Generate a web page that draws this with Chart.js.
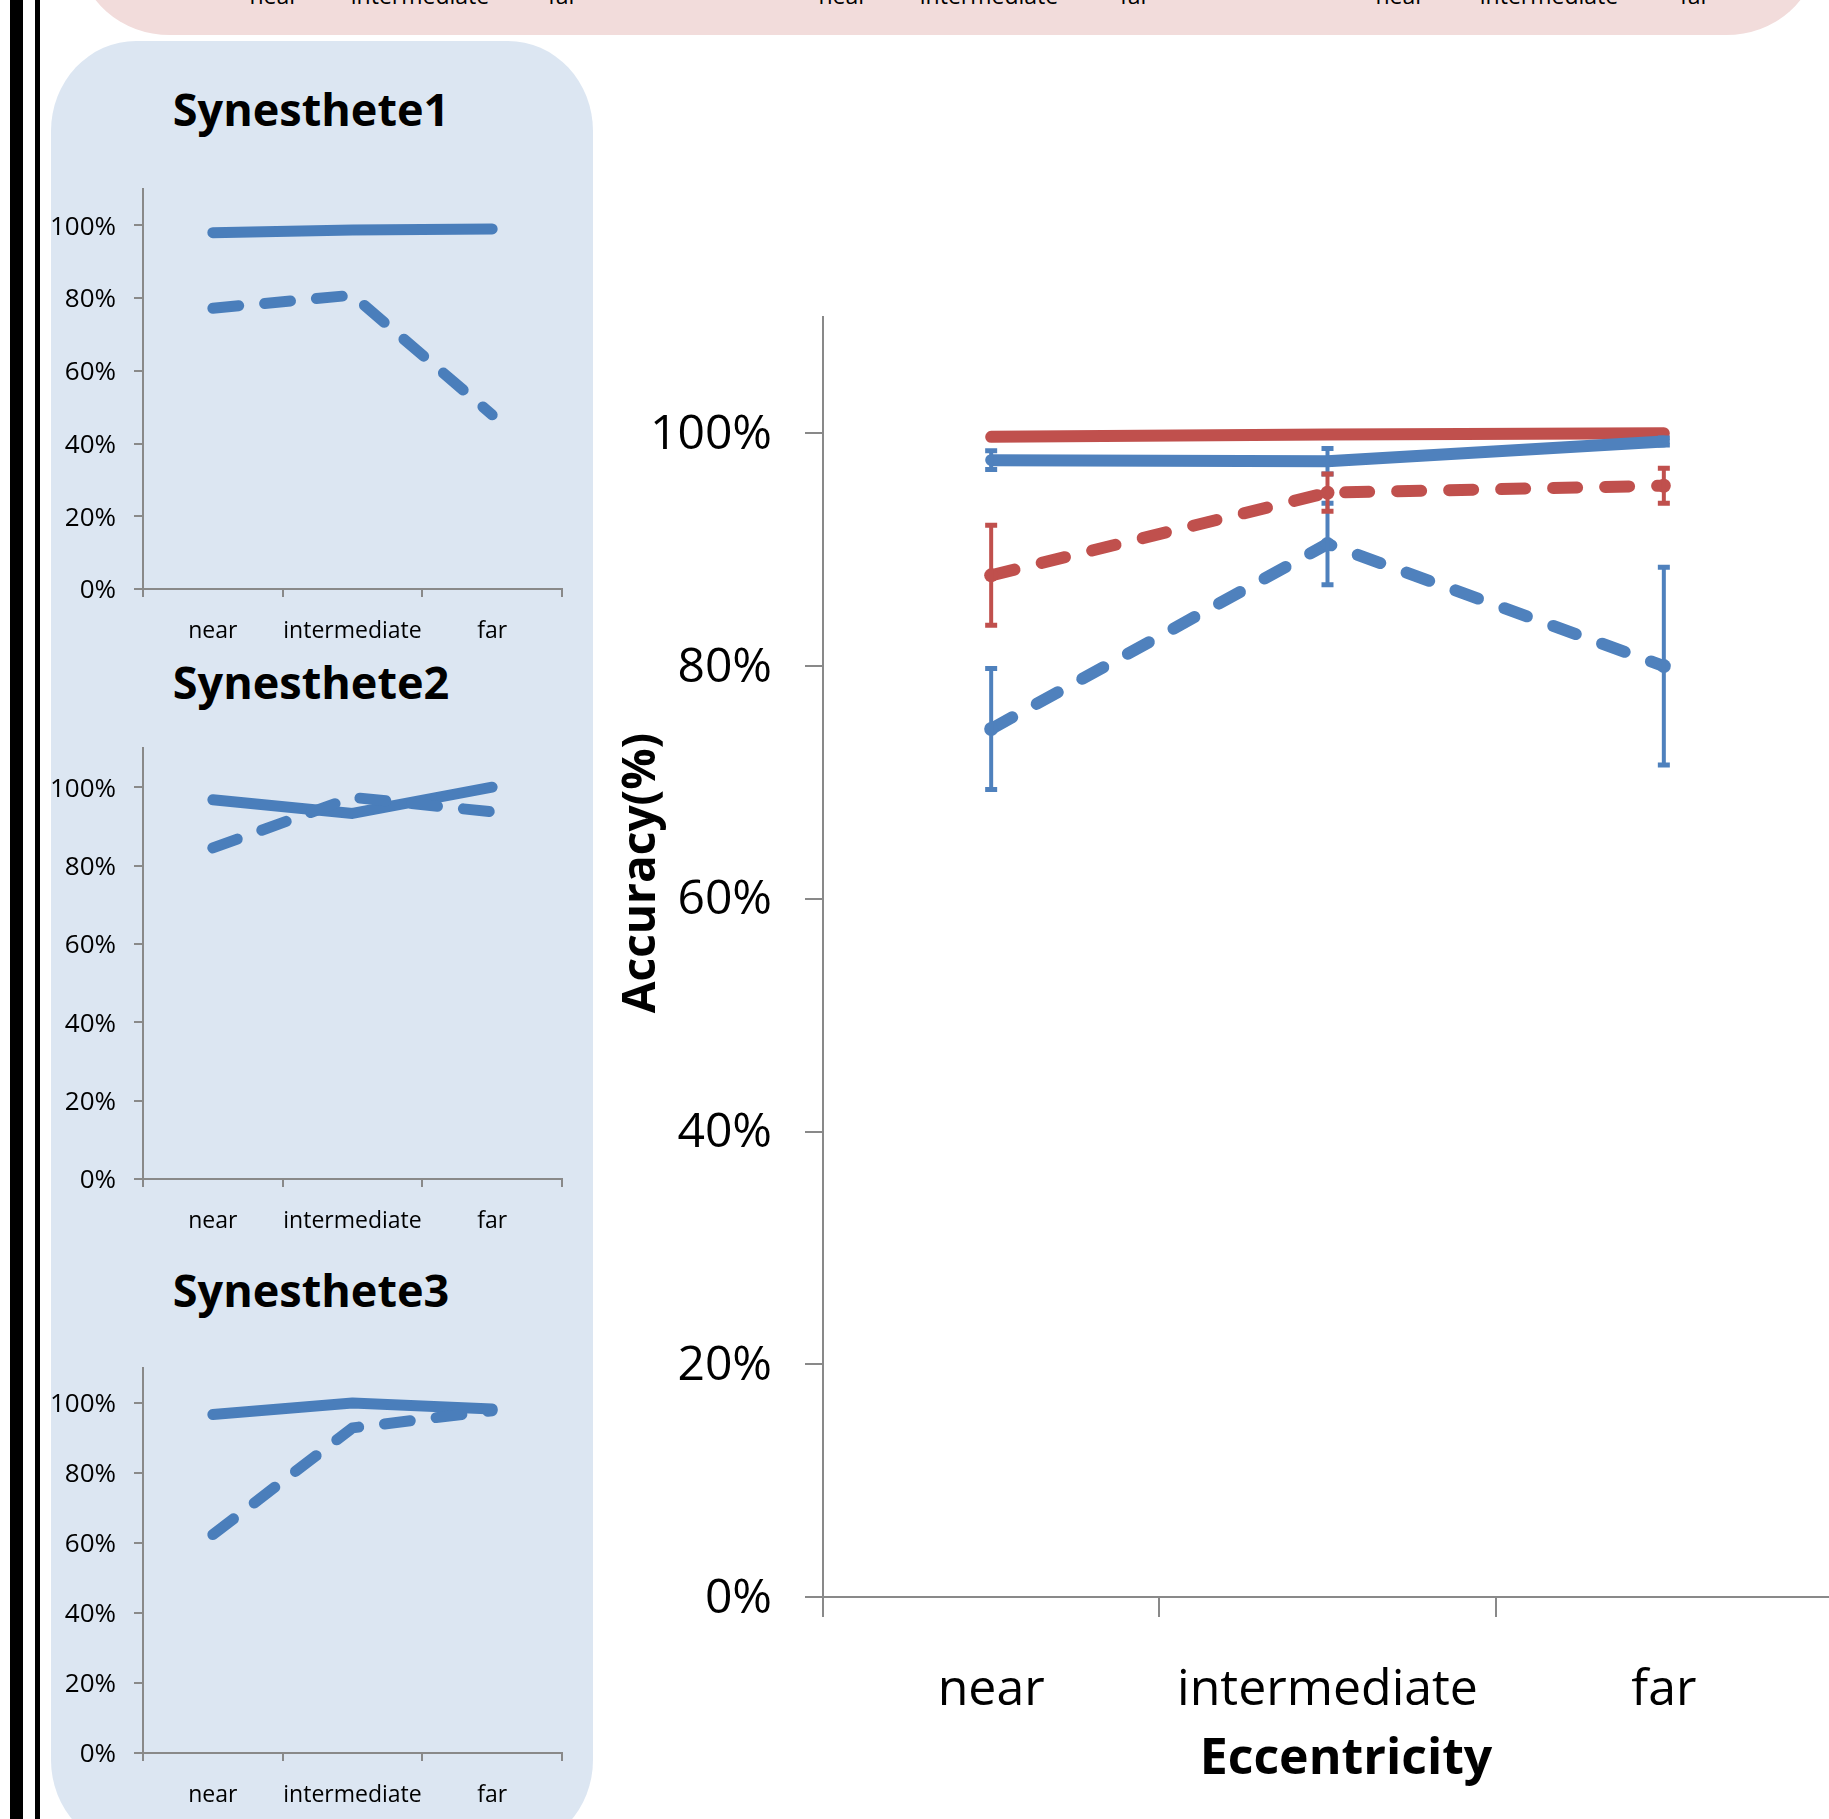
<!DOCTYPE html>
<html><head><meta charset="utf-8">
<script src="https://cdn.jsdelivr.net/npm/chart.js@4.4.1/dist/chart.umd.min.js"></script>
<style>
html,body{margin:0;padding:0;width:1829px;height:1819px;overflow:hidden;background:#fff;font-family:'Open Sans',sans-serif;}
.abs{position:absolute;}
canvas{position:absolute;}
.title{position:absolute;width:400px;text-align:center;font-weight:700;font-size:45px;line-height:45px;color:#000;white-space:nowrap;}
.rem{position:absolute;font-size:23px;line-height:23px;color:#000;white-space:nowrap;transform:translateX(-50%);}
</style></head><body>
<div class="abs" style="left:10px;top:0;width:13px;height:1819px;background:#000"></div>
<div class="abs" style="left:35px;top:0;width:5px;height:1819px;background:#000"></div>
<div class="abs" style="left:80px;top:-200px;width:1736px;height:235px;background:#f2dcdb;border-radius:0 0 90px 90px / 0 0 80px 80px"></div>
<div id="rems"></div>
<div class="abs" style="left:51px;top:41px;width:542px;height:1809px;background:#dce6f2;border-radius:85px / 90px"></div>
<div class="title" style="left:111px;top:86px">Synesthete1</div>
<div class="title" style="left:111px;top:659px">Synesthete2</div>
<div class="title" style="left:111px;top:1267px">Synesthete3</div>
<canvas id="s1"></canvas>
<canvas id="s2"></canvas>
<canvas id="s3"></canvas>
<canvas id="main"></canvas>
<div class="abs" style="left:614px;top:850px;width:46px;height:46px;"><div style="position:absolute;left:23px;top:23px;transform:translate(-50%,-50%) rotate(-90deg);font-weight:700;font-size:46px;line-height:46px;white-space:nowrap;color:#000">Accuracy(%)</div></div>
<div class="abs" style="left:1146px;top:1730px;width:400px;text-align:center;font-weight:700;font-size:50px;line-height:50px;white-space:nowrap;color:#000">Eccentricity</div>
<script>
// ---------- data ----------
const categories = ['near', 'intermediate', 'far'];
const yTickValues = [0, 0.2, 0.4, 0.6, 0.8, 1.0];

// main chart (group means with error bars)
const redSolid      = [0.997, 0.999, 1.000];
const redSolidErr   = [0, 0, 0];
const blueSolid     = [0.977, 0.976, 0.993];
const blueSolidErr  = [0.008, 0.011, 0.003];
const redDashed     = [0.878, 0.949, 0.955];
const redDashedErr  = [0.043, 0.016, 0.015];
const blueDashed    = [0.746, 0.905, 0.800];
const blueDashedErr = [0.052, 0.035, 0.085];

// individual synesthetes
const syn1Solid  = [0.980, 0.987, 0.990];
const syn1Dashed = [0.772, 0.808, 0.479];
const syn2Solid  = [0.968, 0.933, 1.000];
const syn2Dashed = [0.845, 0.974, 0.937];
const syn3Solid  = [0.967, 1.000, 0.983];
const syn3Dashed = [0.624, 0.929, 0.978];

// remnant tick labels of the charts cut off above
const remnantCenters = [[274, 420, 563], [843, 989, 1135], [1400, 1549, 1695]];

// ---------- styling ----------
const RED = '#c0504d', BLUE = '#4f81bd', BLUE_S = '#4a7ebb', AXIS = '#898989';
Chart.defaults.font.family = "'Open Sans', sans-serif";
Chart.defaults.color = '#000';

const rems = document.getElementById('rems');
remnantCenters.forEach(g => g.forEach((cx, i) => {
  const d = document.createElement('div');
  d.className = 'rem'; d.style.left = cx + 'px'; d.style.top = '-16px';
  d.textContent = categories[i]; rems.appendChild(d);
}));

const pct = v => Math.round(v * 100) + '%';
const keepTicks = s => { s.ticks = s.ticks.filter(t => yTickValues.some(v => Math.abs(v - t.value) < 1e-6)); };

function placeChart(id, area, yW, xH, config) {
  const padTop = 100, padRight = 20;
  const cv = document.getElementById(id);
  const w = Math.round(area.r - area.l + yW + padRight);
  const h = Math.round(area.b - area.t + padTop + xH);
  cv.style.left = (area.l - yW) + 'px';
  cv.style.top = (area.t - padTop) + 'px';
  cv.width = w; cv.height = h;
  cv.style.width = w + 'px'; cv.style.height = h + 'px';
  config.options.layout = { padding: { top: padTop, right: padRight, left: 0, bottom: 0 } };
  config.options.scales.y.afterFit = s => { s.width = yW; };
  config.options.scales.x.afterFit = s => { s.height = xH; };
  return new Chart(cv, config);
}

const errorBars = {
  id: 'errorBars',
  afterDatasetsDraw(chart) {
    const ctx = chart.ctx, xs = chart.scales.x, ys = chart.scales.y;
    chart.data.datasets.forEach(ds => {
      if (!ds.errors) return;
      ds.data.forEach((v, i) => {
        const e = ds.errors[i];
        if (!e) return;
        const px = xs.getPixelForValue(i);
        const t = ys.getPixelForValue(v + e), b = ys.getPixelForValue(v - e);
        ctx.save();
        ctx.strokeStyle = ds.borderColor; ctx.setLineDash([]); ctx.lineCap = 'butt';
        ctx.lineWidth = 4;
        ctx.beginPath(); ctx.moveTo(px, t); ctx.lineTo(px, b); ctx.stroke();
        ctx.lineWidth = 5;
        ctx.beginPath();
        ctx.moveTo(px - 6, t); ctx.lineTo(px + 6, t);
        ctx.moveTo(px - 6, b); ctx.lineTo(px + 6, b);
        ctx.stroke();
        ctx.restore();
      });
    });
  }
};

function smallConfig(solid, dashed) {
  return {
    type: 'line',
    data: {
      labels: categories,
      datasets: [
        { label: 'dashed', data: dashed, borderColor: BLUE_S, borderWidth: 11, borderDash: [26, 26], borderCapStyle: 'round', borderJoinStyle: 'round', pointRadius: 0, tension: 0, fill: false },
        { label: 'solid', data: solid, borderColor: BLUE_S, borderWidth: 11, borderCapStyle: 'round', borderJoinStyle: 'round', pointRadius: 0, tension: 0, fill: false }
      ]
    },
    options: {
      responsive: false, maintainAspectRatio: false, animation: false, events: [],
      plugins: { legend: { display: false }, tooltip: { enabled: false } },
      scales: {
        x: {
          offset: true,
          grid: { offset: true, drawOnChartArea: false, drawTicks: true, tickLength: 8, color: AXIS, lineWidth: 2 },
          border: { display: true, color: AXIS, width: 2 },
          ticks: { font: { size: 23 }, padding: 21, color: '#000', maxRotation: 0, autoSkip: false }
        },
        y: {
          min: 0, max: 1.1,
          afterBuildTicks: keepTicks,
          grid: { drawOnChartArea: false, drawTicks: true, tickLength: 9, color: AXIS, lineWidth: 2 },
          border: { display: true, color: AXIS, width: 2 },
          ticks: { stepSize: 0.2, font: { size: 26 }, padding: 18, labelOffset: 2, color: '#000', callback: pct }
        }
      }
    }
  };
}

placeChart('s1', { l: 143, t: 189, r: 562, b: 589 }, 120, 60, smallConfig(syn1Solid, syn1Dashed));
placeChart('s2', { l: 143, t: 748, r: 562, b: 1179 }, 120, 60, smallConfig(syn2Solid, syn2Dashed));
placeChart('s3', { l: 143, t: 1368, r: 562, b: 1753 }, 120, 60, smallConfig(syn3Solid, syn3Dashed));

placeChart('main', { l: 823, t: 317, r: 1832, b: 1597 }, 240, 130, {
  type: 'line',
  data: {
    labels: categories,
    datasets: [
      { label: 'blue solid', data: blueSolid, errors: blueSolidErr, borderColor: BLUE, backgroundColor: BLUE, borderWidth: 12, borderCapStyle: 'round', pointRadius: 0, tension: 0, fill: false },
      { label: 'red solid', data: redSolid, errors: redSolidErr, borderColor: RED, backgroundColor: RED, borderWidth: 12, borderCapStyle: 'round', pointRadius: 0, tension: 0, fill: false },
      { label: 'blue dashed', data: blueDashed, errors: blueDashedErr, borderColor: BLUE, backgroundColor: BLUE, borderWidth: 12, borderDash: [24, 28], borderCapStyle: 'round', pointRadius: 7, pointBorderWidth: 0, pointBackgroundColor: BLUE, tension: 0, fill: false },
      { label: 'red dashed', data: redDashed, errors: redDashedErr, borderColor: RED, backgroundColor: RED, borderWidth: 12, borderDash: [24, 28], borderCapStyle: 'round', pointRadius: 7, pointBorderWidth: 0, pointBackgroundColor: RED, tension: 0, fill: false }
    ]
  },
  options: {
    responsive: false, maintainAspectRatio: false, animation: false, events: [],
    plugins: { legend: { display: false }, tooltip: { enabled: false } },
    scales: {
      x: {
        offset: true,
        grid: { offset: true, drawOnChartArea: false, drawTicks: true, tickLength: 20, color: AXIS, lineWidth: 2 },
        border: { display: true, color: AXIS, width: 2 },
        ticks: { font: { size: 50 }, padding: 44, color: '#000', maxRotation: 0, autoSkip: false }
      },
      y: {
        min: 0, max: 1.1,
        afterBuildTicks: keepTicks,
        grid: { drawOnChartArea: false, drawTicks: true, tickLength: 18, color: AXIS, lineWidth: 2 },
        border: { display: true, color: AXIS, width: 2 },
        ticks: { stepSize: 0.2, font: { size: 48 }, padding: 33, labelOffset: 2, color: '#000', callback: pct }
      }
    }
  },
  plugins: [errorBars]
});
</script>
</body></html>
